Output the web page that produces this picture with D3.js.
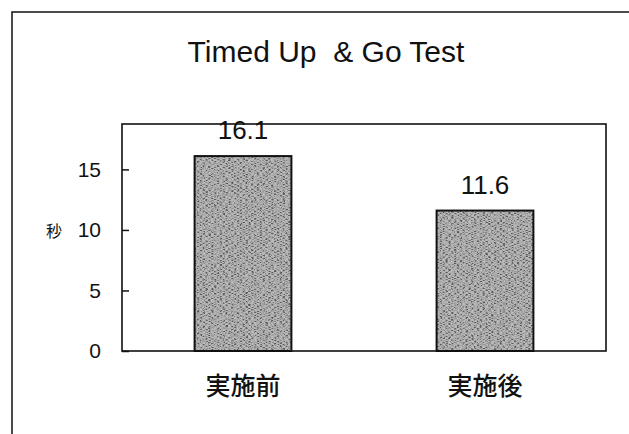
<!DOCTYPE html>
<html>
<head>
<meta charset="utf-8">
<script src="https://cdn.jsdelivr.net/npm/d3@7"></script>
<style>
  html, body { margin: 0; padding: 0; background: #fff; }
  svg { display: block; }
</style>
</head>
<body>
<svg id="chart" width="629" height="434"></svg>
<script>
// Chart data
const title = "Timed Up  & Go Test";
const categories = ["実施前", "実施後"];
const values = [16.1, 11.6];
const valueLabels = ["16.1", "11.6"];
const yTicks = [0, 5, 10, 15];
const yUnit = "秒";

const svg = d3.select("#chart");
const W = 629, H = 434;

// Plot area
const plot = { left: 122, right: 606, top: 124, bottom: 351 };

const x = d3.scaleBand()
  .domain(categories)
  .range([plot.left, plot.right])
  .paddingInner(0.6)
  .paddingOuter(0.3);

const y = d3.scaleLinear()
  .domain([0, 18.75])
  .range([plot.bottom, plot.top]);

// Grainy print-like texture for the bars
const defs = svg.append("defs");
const f = defs.append("filter")
  .attr("id", "grain")
  .attr("x", 0).attr("y", 0).attr("width", 1).attr("height", 1);
f.append("feTurbulence")
  .attr("type", "fractalNoise")
  .attr("baseFrequency", "0.35 1.0")
  .attr("numOctaves", 2)
  .attr("seed", 7)
  .attr("result", "noise");
f.append("feColorMatrix")
  .attr("in", "noise")
  .attr("type", "matrix")
  .attr("values", "0 0 0 0 0.1  0 0 0 0 0.1  0 0 0 0 0.1  4.2 0 0 0 -1.85")
  .attr("result", "dots");
f.append("feComposite")
  .attr("in", "dots").attr("in2", "SourceGraphic")
  .attr("operator", "in").attr("result", "dotsIn");
const merge = f.append("feMerge");
merge.append("feMergeNode").attr("in", "SourceGraphic");
merge.append("feMergeNode").attr("in", "dotsIn");

// Outer frame (top and left edges visible)
svg.append("path")
  .attr("d", `M12,${H} L12,12 L${W},12`)
  .attr("fill", "none")
  .attr("stroke", "#111")
  .attr("stroke-width", 1.5);

// Title
svg.append("text")
  .attr("x", 326)
  .attr("y", 62)
  .attr("text-anchor", "middle")
  .attr("font-family", "'Liberation Sans', Arial, sans-serif")
  .attr("font-size", 30)
  .attr("fill", "#111")
  .style("white-space", "pre")
  .text(title);

// Bars
svg.append("g").selectAll("rect")
  .data(values)
  .join("rect")
  .attr("x", (d, i) => x(categories[i]))
  .attr("y", d => y(d))
  .attr("width", x.bandwidth())
  .attr("height", d => y(0) - y(d))
  .attr("fill", "#bababa")
  .attr("filter", "url(#grain)");

svg.append("g").selectAll("rect")
  .data(values)
  .join("rect")
  .attr("x", (d, i) => x(categories[i]))
  .attr("y", d => y(d))
  .attr("width", x.bandwidth())
  .attr("height", d => y(0) - y(d))
  .attr("fill", "none")
  .attr("stroke", "#111")
  .attr("stroke-width", 2);

// Plot border
svg.append("rect")
  .attr("x", plot.left)
  .attr("y", plot.top)
  .attr("width", plot.right - plot.left)
  .attr("height", plot.bottom - plot.top)
  .attr("fill", "none")
  .attr("stroke", "#111")
  .attr("stroke-width", 1.6);

// Y axis: inner ticks and labels
const yAxis = d3.axisLeft(y)
  .tickValues(yTicks)
  .tickSize(-7)
  .tickPadding(21)
  .tickFormat(d3.format("d"));
const ya = svg.append("g")
  .attr("transform", `translate(${plot.left},0)`)
  .call(yAxis);
ya.select(".domain").remove();
ya.selectAll(".tick line").attr("stroke", "#111").attr("stroke-width", 1.5);
ya.selectAll(".tick text")
  .attr("font-family", "'Liberation Sans', Arial, sans-serif")
  .attr("font-size", 21)
  .attr("fill", "#111");

// Y unit label
svg.append("text")
  .attr("x", 54)
  .attr("y", y(10))
  .attr("text-anchor", "middle")
  .attr("dominant-baseline", "central")
  .attr("font-family", "'Noto Sans CJK JP', sans-serif")
  .attr("font-size", 16)
  .attr("fill", "#111")
  .text(yUnit);

// X category labels
svg.append("g").selectAll("text")
  .data(categories)
  .join("text")
  .attr("x", d => x(d) + x.bandwidth() / 2)
  .attr("y", 384)
  .attr("text-anchor", "middle")
  .attr("dominant-baseline", "central")
  .attr("font-family", "'Noto Sans CJK JP', sans-serif")
  .attr("font-weight", 500)
  .attr("font-size", 25)
  .attr("fill", "#111")
  .text(d => d);

// Value labels above bars
svg.append("g").selectAll("text")
  .data(values)
  .join("text")
  .attr("x", (d, i) => x(categories[i]) + x.bandwidth() / 2)
  .attr("y", d => y(d) - 17)
  .attr("text-anchor", "middle")
  .attr("font-family", "'Liberation Sans', Arial, sans-serif")
  .attr("font-size", 26)
  .attr("fill", "#111")
  .text((d, i) => valueLabels[i]);
</script>
</body>
</html>
